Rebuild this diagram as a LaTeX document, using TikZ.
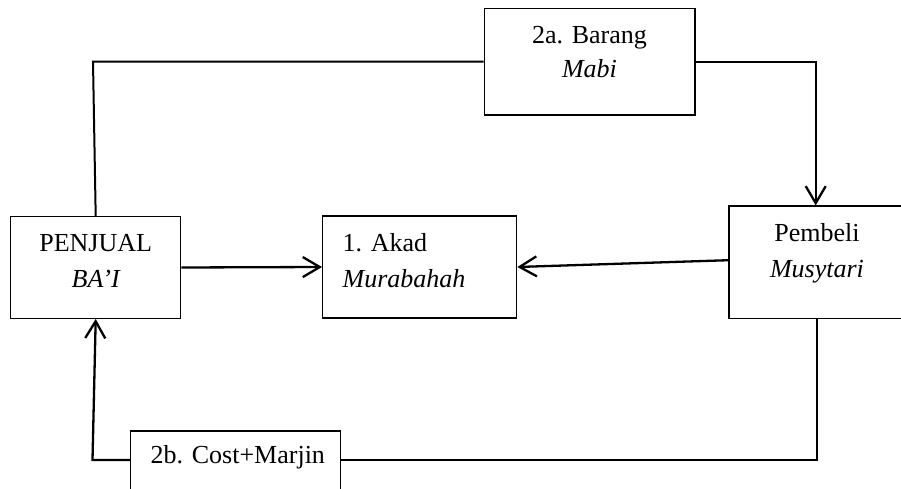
\documentclass[tikz,border=0pt]{standalone}
\usepackage{fontspec}
\setmainfont{Liberation Serif}
\usetikzlibrary{arrows.meta}
\begin{document}
\begin{tikzpicture}[x=1pt,y=-1pt,
  box/.style={draw=black, line width=1.3pt, inner sep=0pt, fill=none},
  txt/.style={inner sep=0pt, font=\fontsize{26}{36}\selectfont},
  conn/.style={draw=black, line width=2pt},
  arr/.style={draw=black, line width=2.3pt, -{Straight Barb[length=17pt,width=20pt,line width=2.3pt]}}]
\useasboundingbox (0,0) rectangle (901,489);
\clip (0,0) rectangle (901,489);
% boxes
\node[box, minimum width=170pt, minimum height=101.6pt] (pen) at (95.7,267.5) {};
\node[box, minimum width=194pt, minimum height=102pt] (akad) at (419.7,267) {};
\node[box, minimum width=176pt, minimum height=112.3pt] (pem) at (817,262.2) {};
\node[box, minimum width=210.7pt, minimum height=106.7pt] (barang) at (589.7,61.7) {};
\node[box, minimum width=210pt, minimum height=100pt] (cost) at (235.7,481) {};
% texts
\node[txt, anchor=base] (pen1) at (95.7,251.7) {PENJUAL};
\node[txt, anchor=base] (pen2) at (95.7,287.3) {\itshape BA’I};
\node[txt, anchor=base west] (akad1) at (342.5,251.7) {1. Akad};
\node[txt, anchor=base west] (akad2) at (342.5,287.3) {\itshape Murabahah};
\node[txt, anchor=base] (pem1) at (817,241.7) {Pembeli};
\node[txt, anchor=base] (pem2) at (817,277) {\itshape Musytari};
\node[txt, anchor=base] (bar1) at (589.5,43.5) {2a. Barang};
\node[txt, anchor=base] (bar2) at (589.5,77.5) {\itshape Mabi};
\node[txt, anchor=base west] (cost1) at (150.5,463.3) {2b. Cost+Marjin};
% corner coordinates
\coordinate (tl) at (93,61.7);
\coordinate (tr) at (815.7,61.7);
\coordinate (br) at (817,460);
\coordinate (bl) at (92.5,460);
% connectors
\draw[conn] (pen.north) -- (tl) -- (barang.west);
\draw[arr] (barang.east) -- (tr) -- (tr |- pem.north);
\draw[conn] (pem.south) -- (br) -- (br -| cost.east);
\draw[arr] (bl -| cost.west) -- (bl) -- (pen.south);
\draw[arr] (pen.east) -- (akad.west);
\draw[arr] ([yshift=2pt]pem.west) -- (akad.east);
\end{tikzpicture}
\end{document}
